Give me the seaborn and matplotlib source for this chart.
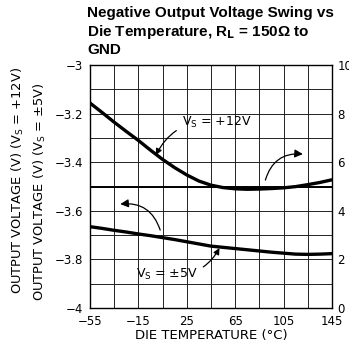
import numpy as np
import pandas as pd
import matplotlib
matplotlib.use("Agg")
import matplotlib.pyplot as plt
import seaborn as sns

# Data
temp = [-55, -45, -35, -25, -15, -5, 5, 15, 25, 35, 45, 55, 65, 75, 85, 95, 105, 115, 125, 135, 145]
vout_12v = [-3.156, -3.195, -3.235, -3.273, -3.31, -3.35, -3.388, -3.422, -3.452, -3.477, -3.494,
            -3.504, -3.509, -3.511, -3.51, -3.508, -3.505, -3.5, -3.492, -3.483, -3.472]
vout_5v = [-3.665, -3.672, -3.68, -3.687, -3.695, -3.702, -3.71, -3.718, -3.727, -3.736, -3.745,
           -3.75, -3.755, -3.76, -3.765, -3.77, -3.774, -3.778, -3.779, -3.778, -3.776]
x_ticks = [-55, -15, 25, 65, 105, 145]
y_ticks = [-4, -3.8, -3.6, -3.4, -3.2, -3]
y_tick_labels = ["\u22124", "\u22123.8", "\u22123.6", "\u22123.4", "\u22123.2", "\u22123"]
right_ticks = [0, 2, 4, 6, 8, 10]

df = pd.DataFrame({
    "temp": temp * 2,
    "vout": vout_12v + vout_5v,
    "supply": ["+12V"] * len(temp) + ["5V"] * len(temp),
})

sns.set_theme(style="white")
plt.rcParams['font.family'] = ['DejaVu Sans']
plt.rcParams.update({"text.color": "black", "axes.labelcolor": "black",
                     "xtick.color": "black", "ytick.color": "black"})

fig = plt.figure(figsize=(3.49, 3.62), dpi=100)
ax = fig.add_axes([0.258, 0.149, 0.693, 0.671])

sns.lineplot(data=df, x="temp", y="vout", units="supply", estimator=None,
             color="black", linewidth=2.4, ax=ax, legend=False, zorder=3)

ax.set_xlim(-55, 145)
ax.set_ylim(-4, -3)
ax.set_xticks(x_ticks)
ax.set_yticks(y_ticks)
ax.set_yticklabels(y_tick_labels)
ax.set_xticks(np.arange(-35, 146, 40), minor=True)
ax.set_yticks([-3.9, -3.7, -3.5, -3.3, -3.1], minor=True)
ax.grid(which="both", color="#222222", linewidth=0.7)
ax.axhline(-3.5, color="black", linewidth=1.4)
ax.tick_params(which="both", length=0, labelsize=8.5, pad=5)
for s in ax.spines.values():
    s.set_color("black")
    s.set_linewidth(1.0)
ax.set_xlabel("DIE TEMPERATURE (\u00b0C)", fontsize=9.5, labelpad=1)
ax.set_ylabel("")

ax2 = ax.twinx()
ax2.set_ylim(0, 10)
ax2.set_yticks(right_ticks)
ax2.tick_params(length=0, labelsize=8.5, pad=4)
for s in ax2.spines.values():
    s.set_visible(False)

# stacked y labels on the left
fig.text(0.052, 1 - 180 / 362, "OUTPUT VOLTAGE (V) (V$_\\mathregular{S}$ = +12V)", rotation=90,
         ha="center", va="center", fontsize=9.4)
fig.text(0.115, 1 - 192 / 362, "OUTPUT VOLTAGE (V) (V$_\\mathregular{S}$ = \u00b15V)", rotation=90,
         ha="center", va="center", fontsize=9.4)

# title
fig.text(0.250, 1 - 6 / 362, "Negative Output Voltage Swing vs\nDie Temperature, R$_\\mathbf{L}$ = 150\u03a9 to\nGND",
         ha="left", va="top", fontsize=11, fontweight="bold", family="Liberation Sans",
         linespacing=1.2)

# annotations
ax.annotate("V$_\\mathregular{S}$ = +12V", xy=(-0.5, -3.37), xytext=(21, -3.235),
            fontsize=9, ha="left", va="center",
            arrowprops=dict(arrowstyle="-|>", color="black", lw=0.9,
                            connectionstyle="arc3,rad=0.35", shrinkA=2, shrinkB=0))
ax.annotate("", xy=(121, -3.366), xytext=(90, -3.473),
            arrowprops=dict(arrowstyle="-|>", color="black", lw=0.9,
                            connectionstyle="arc3,rad=-0.4", shrinkA=0, shrinkB=0))
ax.annotate("", xy=(-30, -3.572), xytext=(3, -3.679),
            arrowprops=dict(arrowstyle="-|>", color="black", lw=0.9,
                            connectionstyle="arc3,rad=0.4", shrinkA=0, shrinkB=0))
ax.annotate("V$_\\mathregular{S}$ = \u00b15V", xy=(52, -3.753), xytext=(34, -3.86),
            fontsize=9, ha="right", va="center",
            arrowprops=dict(arrowstyle="-|>", color="black", lw=0.9,
                            connectionstyle="arc3,rad=0.35", shrinkA=2, shrinkB=0))

fig.savefig("out.png", dpi=100)
